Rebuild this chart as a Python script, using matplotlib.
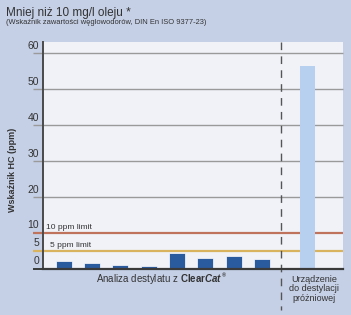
import matplotlib
matplotlib.use("Agg")
import matplotlib.pyplot as plt
import matplotlib.transforms as mtransforms
import numpy as np

plt.rcParams['font.family'] = ['Liberation Sans', 'DejaVu Sans']
plt.rcParams['mathtext.fontset'] = 'custom'
plt.rcParams['mathtext.rm'] = 'Liberation Sans'
plt.rcParams['mathtext.bf'] = 'Liberation Sans:bold'
plt.rcParams['mathtext.bfit'] = 'Liberation Sans:bold:italic'

# ---- data ----
clearcat_values = [2.2, 1.4, 1.1, 0.6, 4.3, 2.9, 3.5, 2.7]
vacuum_value = [56.4]
limit_values = [10, 5]
limit_labels = ["10 ppm limit", "5 ppm limit"]
ytick_values = [0, 5, 10, 20, 30, 40, 50, 60]
title = "Mniej niż 10 mg/l oleju *"
subtitle = "(Wskaźnik zawartości węglowodorów, DIN En ISO 9377-23)"
ylabel = "Wskaźnik HC (ppm)"
xlabel_group = r"Analiza destylatu z $\mathbf{Clear}\mathbfit{Cat}$"
xlabel_mark = "®"
vacuum_label = "Urządzenie\ndo destylacji\npróżniowej"

FIG_BG = "#c5d0e6"
AX_BG = "#f0f2f8"
DARK = "#2b5b9f"
LIGHT = "#b8d0ef"
LIMIT_COLORS = ["#c0735c", "#d9b35e"]
GRID = "#9a9a9a"
BASE = "#3a3a3a"

fig = plt.figure(figsize=(3.51, 3.15), dpi=100, facecolor=FIG_BG)
ax = fig.add_axes([43/351, 46.5/315, 300/351, 226.5/315])
ax.set_facecolor(AX_BG)

x_dark = np.arange(len(clearcat_values))
sep_x = len(clearcat_values) - 0.31
x_light = np.array([len(clearcat_values) + 0.61])

ax.set_xlim(-0.735, 9.866)
ax.set_ylim(0, 63.1)

hline_trans = mtransforms.blended_transform_factory(ax.transAxes, ax.transData)
tick_ext = -10 / 300  # extend 10 px left of the axis

for v in ytick_values:
    if v in limit_values:
        c = LIMIT_COLORS[limit_values.index(v)]
        lw = 1.6
    elif v == 0:
        c = BASE
        lw = 1.4
    else:
        c = GRID
        lw = 1.0
    ax.plot([tick_ext, 1], [v, v], transform=hline_trans, color=c, lw=lw,
            clip_on=False, zorder=2, solid_capstyle="butt")

ax.bar(x_dark, clearcat_values, width=0.56, color=DARK, edgecolor="white",
       linewidth=0.5, zorder=3)
ax.bar(x_light, vacuum_value, width=0.53, color=LIGHT, zorder=3)

# separator dashed line, extending below axes
trans = mtransforms.blended_transform_factory(ax.transData, ax.transAxes)
ax.plot([sep_x, sep_x], [1.0, -0.183], transform=trans, color="#555555",
        lw=1.0, dashes=(5.5, 4.5), clip_on=False, zorder=4)

# limit labels
for v, lab, dx in zip(limit_values, limit_labels, [3.5, 7.5]):
    ax.annotate(lab, xy=(0, v), xycoords=("axes fraction", "data"),
                xytext=(dx, 2.0), textcoords="offset pixels",
                ha="left", va="bottom", fontsize=6, color="#333333", zorder=5)

ax.set_yticks([])
ax.set_xticks([])
for v in ytick_values:
    ax.annotate(str(v), xy=(0, v), xycoords=("axes fraction", "data"),
                xytext=(-4, 2.2), textcoords="offset pixels",
                ha="right", va="bottom", fontsize=7.5, color="#333333")

for s in ["top", "right"]:
    ax.spines[s].set_visible(False)
ax.spines["left"].set_color("#4a4a4a")
ax.spines["left"].set_linewidth(1.4)
ax.spines["bottom"].set_color(BASE)
ax.spines["bottom"].set_linewidth(1.6)
ax.spines["left"].set_zorder(6)
ax.spines["bottom"].set_zorder(6)

# titles
fig.text(6/351, 1 - 13/315, title, fontsize=8.5, color="#333333",
         ha="left", va="center")
fig.text(6/351, 1 - 22.5/315, subtitle, fontsize=5.4, color="#333333",
         ha="left", va="center")

# y label
fig.text(12.5/351, 1 - 170/315, ylabel, fontsize=6.5, fontweight="bold",
         rotation=90, ha="center", va="center", color="#333333")

# x label for ClearCat group
xl = ax.annotate(xlabel_group, xy=(np.mean(x_dark), 0), xycoords="data",
                 xytext=(-4, -13.5), textcoords="offset pixels", ha="center",
                 va="baseline", fontsize=7, color="#333333",
                 annotation_clip=False)
fig.canvas.draw()
bb = xl.get_window_extent(fig.canvas.get_renderer())
fig.text((bb.x1 - 0.5) / fig.bbox.width, (bb.y1 - 1.5) / fig.bbox.height,
         xlabel_mark, fontsize=4, fontweight="bold", color="#333333",
         ha="left", va="top")

# vacuum label
ax.annotate(vacuum_label, xy=(x_light[0], 0), xycoords="data",
            xytext=(7, -6), textcoords="offset pixels", ha="center", va="top",
            fontsize=6.5, color="#333333", linespacing=1.1,
            annotation_clip=False)

fig.savefig("out.png", dpi=100, facecolor=FIG_BG)
